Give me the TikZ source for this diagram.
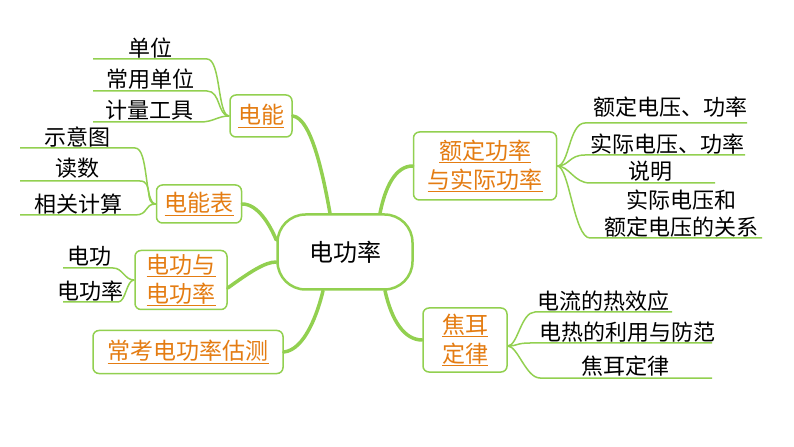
\documentclass[tikz,border=0pt]{standalone}
\usepackage{fontspec}
\setmainfont{Noto Sans CJK SC}
\usetikzlibrary{positioning}
\definecolor{mapgreen}{RGB}{146,208,80}
\definecolor{maporange}{RGB}{228,124,18}
\newcommand{\lk}[1]{\underline{#1}}

\begin{document}
\begin{tikzpicture}[x=1bp, y=-1bp,
    mainbox/.style = {draw=mapgreen, line width=2.5bp, rounded corners=28bp, fill=white,
      minimum width=135bp, minimum height=75bp, inner sep=0pt, font=\fontsize{24bp}{28bp}\selectfont},
    subbox/.style = {draw=mapgreen, line width=1.5bp, rounded corners=6bp, fill=white,
      text=maporange, align=center, inner sep=0pt, font=\fontsize{23bp}{29bp}\selectfont},
    leaf/.style = {inner sep=0pt, align=center, font=\fontsize{22bp}{27bp}\selectfont},
    leafline/.style = {draw=mapgreen, line width=1.5bp},
    branch/.style = {draw=mapgreen, line width=3.5bp, line cap=round}]
  \useasboundingbox (0,0) rectangle (794,447);

  % centre and main topics
  \node[mainbox] (cn) at (345,252) {电功率};
  \node[subbox, minimum width=62bp, minimum height=42bp] (dn) at (261,116) {\lk{电能}};
  \node[subbox, minimum width=85bp, minimum height=38bp] (db) at (199,204) {\lk{电能表}};
  \node[subbox, minimum width=92bp, minimum height=59bp] (dg) at (181,280) {\lk{电功与}\\\lk{电功率}};
  \node[subbox, minimum width=190bp, minimum height=43bp] (gc) at (188,352) {\lk{常考电功率估测}};
  \node[subbox, minimum width=143bp, minimum height=68bp] (ed) at (485,166) {\lk{额定功率}\\\lk{与实际功率}};
  \node[subbox, minimum width=84bp, minimum height=64bp] (je) at (465,340) {\lk{焦耳}\\\lk{定律}};

  \draw[branch] (dn.east) .. controls (312,118) and (324,180) .. ([xshift=-15bp]cn.north);
  \draw[branch] (db.east) .. controls (258,204) and (270,225) .. ([yshift=12bp]cn.west);
  \draw[branch] ([yshift=-8bp]dg.east) .. controls (250,272) and (265,262) .. ([yshift=-10bp]cn.west);
  \draw[branch] (gc.east) .. controls (305,350) and (318,312) .. ([xshift=-22bp]cn.south);
  \draw[branch] ([xshift=35bp]cn.north) .. controls (385,188) and (395,166) .. (ed.west);
  \draw[branch] ([xshift=40bp]cn.south) .. controls (392,322) and (405,340) .. (je.west);

  % 电能
  \node[leaf] (dn1) at (150,48) {单位};
  \node[leaf] (dn2) at (150,79) {常用单位};
  \node[leaf] (dn3) at (149,110) {计量工具};
  \coordinate (dn1a) at (93,59);  \coordinate (dn1b) at (207,59);
  \coordinate (dn2a) at (93,91);  \coordinate (dn2b) at (207,91);
  \coordinate (dn3a) at (93,122); \coordinate (dn3b) at (200,122);
  \draw[leafline] (dn.west) .. controls +(-12,0) and +(14,0) .. (dn1b) -- (dn1a);
  \draw[leafline] (dn.west) .. controls +(-12,0) and +(14,0) .. (dn2b) -- (dn2a);
  \draw[leafline] (dn.west) .. controls +(-12,0) and +(14,0) .. (dn3b) -- (dn3a);

  % 电能表
  \node[leaf] (db1) at (77,137) {示意图};
  \node[leaf] (db2) at (77,168) {读数};
  \node[leaf] (db3) at (78,204) {相关计算};
  \coordinate (db1a) at (20,148); \coordinate (db1b) at (135,148);
  \coordinate (db2a) at (20,181); \coordinate (db2b) at (140,181);
  \coordinate (db3a) at (20,215); \coordinate (db3b) at (135,215);
  \draw[leafline] (db.west) .. controls +(-12,0) and +(14,0) .. (db1b) -- (db1a);
  \draw[leafline] (db.west) .. controls +(-12,0) and +(14,0) .. (db2b) -- (db2a);
  \draw[leafline] (db.west) .. controls +(-12,0) and +(14,0) .. (db3b) -- (db3a);

  % 电功与电功率
  \node[leaf] (dg1) at (89,256) {电功};
  \node[leaf] (dg2) at (90,291) {电功率};
  \coordinate (dg1a) at (63,268); \coordinate (dg1b) at (113,268);
  \coordinate (dg2a) at (63,302); \coordinate (dg2b) at (118,302);
  \draw[leafline] (dg.west) .. controls +(-10,0) and +(10,0) .. (dg1b) -- (dg1a);
  \draw[leafline] (dg.west) .. controls +(-8,0) and +(8,0) .. (dg2b) -- (dg2a);

  % 额定功率与实际功率
  \node[leaf] (ed1) at (670,107) {额定电压、功率};
  \node[leaf] (ed2) at (667,144) {实际电压、功率};
  \node[leaf] (ed3) at (650,171) {说明};
  \node[leaf] (ed4) at (681,214) {实际电压和\\额定电压的关系};
  \coordinate (ed1a) at (585,123); \coordinate (ed1b) at (747,123);
  \coordinate (ed2a) at (585,155); \coordinate (ed2b) at (745,155);
  \coordinate (ed3a) at (590,183); \coordinate (ed3b) at (715,183);
  \coordinate (ed4a) at (590,238); \coordinate (ed4b) at (762,238);
  \draw[leafline] (ed.east) .. controls +(12,0) and +(-16,0) .. (ed1a) -- (ed1b);
  \draw[leafline] (ed.east) .. controls +(12,0) and +(-16,0) .. (ed2a) -- (ed2b);
  \draw[leafline] (ed.east) .. controls +(12,0) and +(-16,0) .. (ed3a) -- (ed3b);
  \draw[leafline] (ed.east) .. controls +(12,0) and +(-16,0) .. (ed4a) -- (ed4b);

  % 焦耳定律
  \node[leaf] (je1) at (603,301) {电流的热效应};
  \node[leaf] (je2) at (627,332) {电热的利用与防范};
  \node[leaf] (je3) at (625,366) {焦耳定律};
  \coordinate (je1a) at (535,312); \coordinate (je1b) at (672,312);
  \coordinate (je2a) at (530,343); \coordinate (je2b) at (712,343);
  \coordinate (je3a) at (540,378); \coordinate (je3b) at (712,378);
  \draw[leafline] ([yshift=-6bp]je.east) .. controls +(10,0) and +(-14,0) .. (je1a) -- (je1b);
  \draw[leafline] ([yshift=-6bp]je.east) .. controls +(10,0) and +(-14,0) .. (je2a) -- (je2b);
  \draw[leafline] ([yshift=-6bp]je.east) .. controls +(10,0) and +(-14,0) .. (je3a) -- (je3b);
\end{tikzpicture}
\end{document}
